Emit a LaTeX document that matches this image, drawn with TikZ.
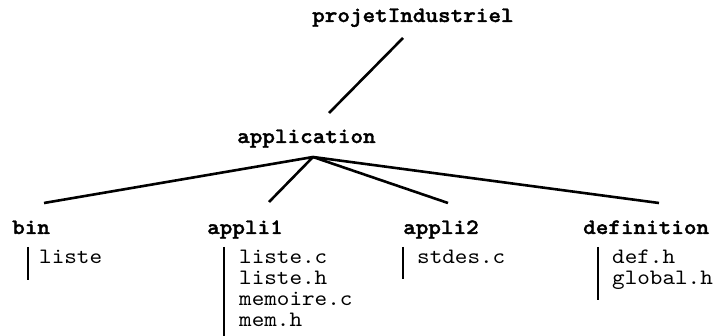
\documentclass[tikz,border=0pt]{standalone}
\usepackage{fontspec}
\newfontfamily\cour[Extension=.otf, FakeStretch=1.09]{lmmono10-regular}
\newfontfamily\courb[Extension=.otf, FakeStretch=1.09, FakeBold=1.6]{lmmonolt10-bold}
\begin{document}
\begin{tikzpicture}[x=1pt,y=-1pt,
  lbl/.style={font=\courb\fontsize{22}{22}\selectfont, inner sep=0pt, anchor=base west},
  files/.style={font=\cour\fontsize{22}{21}\selectfont, inner sep=0pt, anchor=base west, text width=150pt, align=left},
  edge/.style={line width=2.6pt},
  bar/.style={line width=1.1pt}]
\useasboundingbox (0,0) rectangle (716,336);
% directory labels
\node[lbl] (root) at (312,22) {projetIndustriel};
\node[lbl] (app) at (237,143) {application};
\node[lbl] (bin) at (12,234) {bin};
\node[lbl] (a1) at (207,234) {appli1};
\node[lbl] (a2) at (403,234) {appli2};
\node[lbl] (def) at (583,234) {definition};
% file lists
\node[files] (binF) at (39,264) {liste};
\node[files] (a1F) at (239,264) {liste.c\\liste.h\\memoire.c\\mem.h};
\node[files] (a2F) at (417,264) {stdes.c};
\node[files] (defF) at (612,264) {def.h\\global.h};
% connector ends
\coordinate (rootEnd) at (403,38);
\coordinate (appTop) at (329,113);
\coordinate (apex) at (313,157);
\coordinate (binEnd) at (44,203);
\coordinate (a1End) at (269,202);
\coordinate (a2End) at (448,203);
\coordinate (defEnd) at (659,203);
\draw[edge] (rootEnd) -- (appTop);
\draw[edge] (apex) -- (binEnd);
\draw[edge] (apex) -- (a1End);
\draw[edge] (apex) -- (a2End);
\draw[edge] (apex) -- (defEnd);
% bars
\coordinate (binB1) at (28,247);
\coordinate (binB2) at (28,280);
\coordinate (a1B1) at (224,247);
\coordinate (a1B2) at (224,336);
\coordinate (a2B1) at (403,247);
\coordinate (a2B2) at (403,279);
\coordinate (defB1) at (598,247);
\coordinate (defB2) at (598,300);
\draw[bar] (binB1) -- (binB2);
\draw[bar] (a1B1) -- (a1B2);
\draw[bar] (a2B1) -- (a2B2);
\draw[bar] (defB1) -- (defB2);
\end{tikzpicture}
\end{document}
